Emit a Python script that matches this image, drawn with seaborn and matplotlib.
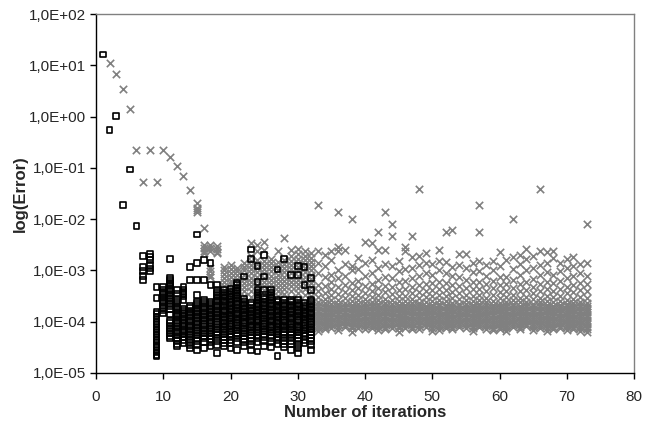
import numpy as np
import pandas as pd
import seaborn as sns
import matplotlib
matplotlib.use('Agg')
import matplotlib.pyplot as plt
from matplotlib.ticker import FixedLocator, FuncFormatter

# log10(error), one row per iteration
square_iters = list(range(1, 33))
square_log_err = [
    [1.21],
    [-0.26],
    [0.01],
    [-1.72],
    [-1.03],
    [-2.13],
    [-2.72, -2.93, -3.01, -3.11, -3.19],
    [-2.68, -2.74, -2.80, -2.89, -2.96, -3.02],
    [-3.33, -3.54, -3.80, -3.85, -3.90, -3.95, -4.00, -4.05, -4.10, -4.15, -4.20, -4.25, -4.30, -4.35, -4.40, -4.45, -4.50, -4.55, -4.60, -4.65, -4.68],
    [-3.33, -3.37, -3.42, -3.46, -3.51, -3.55, -3.60, -3.64, -3.69, -3.73, -3.78, -3.84],
    [-2.78, -3.15, -3.19, -3.23, -3.27, -3.31, -3.36, -3.40, -3.45, -3.50, -3.55, -3.60, -3.65, -3.70, -3.75, -3.86, -3.98, -4.03, -4.08, -4.13, -4.18, -4.23, -4.28, -4.33],
    [-3.38, -3.45, -3.57, -3.61, -3.66, -3.71, -3.75, -3.80, -3.85, -3.89, -3.94, -3.99, -4.03, -4.08, -4.13, -4.18, -4.22, -4.27, -4.32, -4.38, -4.44, -4.48],
    [-3.33, -3.37, -3.42, -3.46, -3.51, -3.58, -3.74, -3.78, -3.83, -3.88, -3.92, -3.97, -4.02, -4.06, -4.11, -4.16, -4.20, -4.25, -4.30, -4.35, -4.42],
    [-2.93, -3.18, -3.69, -3.73, -3.78, -3.82, -3.87, -3.92, -3.96, -4.01, -4.06, -4.10, -4.15, -4.20, -4.25, -4.30, -4.35, -4.40, -4.46, -4.52],
    [-2.30, -2.86, -3.18, -3.48, -3.61, -3.65, -3.70, -3.74, -3.79, -3.84, -3.88, -3.93, -3.98, -4.02, -4.07, -4.12, -4.17, -4.22, -4.27, -4.32, -4.38, -4.45, -4.55],
    [-2.80, -3.18, -3.57, -3.61, -3.66, -3.71, -3.75, -3.80, -3.85, -3.90, -3.94, -3.99, -4.04, -4.08, -4.13, -4.18, -4.23, -4.28, -4.33, -4.40, -4.51],
    [-2.86, -3.28, -3.61, -3.66, -3.70, -3.75, -3.80, -3.84, -3.89, -3.94, -3.98, -4.03, -4.08, -4.13, -4.18, -4.23, -4.28, -4.34, -4.40, -4.47],
    [-3.28, -3.38, -3.43, -3.48, -3.53, -3.57, -3.62, -3.67, -3.71, -3.76, -3.81, -3.86, -3.90, -3.95, -4.00, -4.05, -4.10, -4.15, -4.20, -4.25, -4.31, -4.37, -4.45, -4.61],
    [-3.38, -3.43, -3.48, -3.53, -3.58, -3.62, -3.67, -3.72, -3.77, -3.81, -3.86, -3.91, -3.96, -4.01, -4.05, -4.10, -4.15, -4.20, -4.25, -4.30, -4.36, -4.42, -4.48],
    [-3.36, -3.41, -3.46, -3.51, -3.56, -3.61, -3.65, -3.70, -3.75, -3.80, -3.84, -3.89, -3.94, -3.99, -4.04, -4.09, -4.14, -4.19, -4.24, -4.29, -4.35, -4.42, -4.52],
    [-3.24, -3.29, -3.34, -3.39, -3.44, -3.49, -3.54, -3.59, -3.63, -3.68, -3.73, -3.78, -3.83, -3.87, -3.92, -3.97, -4.02, -4.07, -4.12, -4.17, -4.22, -4.27, -4.33, -4.40, -4.55],
    [-3.12, -3.56, -3.61, -3.65, -3.70, -3.75, -3.80, -3.84, -3.89, -3.94, -3.99, -4.03, -4.08, -4.13, -4.18, -4.23, -4.28, -4.34, -4.40, -4.48],
    [-2.59, -2.78, -3.64, -3.68, -3.73, -3.78, -3.82, -3.87, -3.92, -3.96, -4.01, -4.06, -4.11, -4.16, -4.21, -4.26, -4.32, -4.38, -4.45, -4.55],
    [-2.91, -3.22, -3.38, -3.43, -3.48, -3.53, -3.58, -3.63, -3.67, -3.72, -3.77, -3.82, -3.86, -3.91, -3.96, -4.01, -4.06, -4.11, -4.16, -4.21, -4.26, -4.32, -4.40, -4.58],
    [-2.70, -3.12, -3.37, -3.51, -3.56, -3.61, -3.65, -3.70, -3.75, -3.80, -3.84, -3.89, -3.94, -3.99, -4.04, -4.09, -4.14, -4.19, -4.24, -4.30, -4.37, -4.48],
    [-3.38, -3.43, -3.48, -3.53, -3.58, -3.63, -3.67, -3.72, -3.77, -3.82, -3.87, -3.91, -3.96, -4.01, -4.06, -4.11, -4.16, -4.21, -4.26, -4.32, -4.39, -4.50],
    [-2.98, -3.58, -3.62, -3.67, -3.72, -3.77, -3.81, -3.86, -3.91, -3.96, -4.00, -4.05, -4.10, -4.15, -4.20, -4.25, -4.30, -4.36, -4.43, -4.67],
    [-2.78, -3.58, -3.63, -3.67, -3.72, -3.77, -3.82, -3.86, -3.91, -3.96, -4.01, -4.06, -4.10, -4.15, -4.20, -4.25, -4.31, -4.37, -4.43, -4.49],
    [-3.09, -3.58, -3.62, -3.67, -3.72, -3.76, -3.81, -3.86, -3.91, -3.95, -4.00, -4.05, -4.10, -4.15, -4.20, -4.25, -4.31, -4.37, -4.44, -4.55],
    [-2.92, -3.09, -3.58, -3.63, -3.67, -3.72, -3.77, -3.82, -3.86, -3.91, -3.96, -4.01, -4.06, -4.11, -4.16, -4.21, -4.26, -4.32, -4.38, -4.45, -4.52, -4.61],
    [-2.93, -3.28, -3.64, -3.69, -3.73, -3.78, -3.83, -3.88, -3.92, -3.97, -4.02, -4.07, -4.12, -4.17, -4.22, -4.28, -4.35, -4.42],
    [-3.15, -3.38, -3.57, -3.62, -3.66, -3.71, -3.76, -3.81, -3.85, -3.90, -3.95, -4.00, -4.05, -4.10, -4.15, -4.20, -4.26, -4.32, -4.38, -4.45, -4.55],
]

cross_iters = list(range(2, 74))
cross_log_err = [
    [1.04], [0.83], [0.54], [0.14], [-0.645], [-1.27], [-0.645], [-1.27], [-0.645],
    [-0.78], [-0.96], [-1.15], [-1.44],
    [-1.69, -1.78, -1.83, -1.86],
    [-2.17, -2.50, -2.56, -2.62, -2.66],
    [-2.50, -2.56, -2.62, -2.95, -3.02, -3.08, -3.13],
    [-2.52, -2.58, -2.64, -2.66],
    [-2.93, -3.00, -3.07, -3.14, -3.22, -3.30, -3.38, -3.45, -3.55, -3.70, -3.85, -4.00, -4.12],
    [-2.90, -2.97, -3.05, -3.12, -3.20, -3.27, -3.35, -3.43, -3.52, -3.68, -3.83, -3.97, -4.10],
    [-2.95, -3.02, -3.09, -3.17, -3.24, -3.32, -3.40, -3.48, -3.58, -3.74, -3.88, -4.03, -4.15],
    [-2.85, -2.93, -3.00, -3.08, -3.16, -3.24, -3.32, -3.40, -3.50, -3.66, -3.80, -3.95, -4.08],
    [-2.47, -2.72, -2.82, -2.90, -2.98, -3.06, -3.14, -3.22, -3.30, -3.40, -3.52, -3.70, -3.85, -4.00, -4.12],
    [-2.50, -2.62, -2.80, -2.88, -2.96, -3.04, -3.12, -3.20, -3.28, -3.36, -3.46, -3.60, -3.75, -3.90, -4.05],
    [-2.44, -2.60, -2.82, -2.90, -2.98, -3.06, -3.14, -3.22, -3.30, -3.38, -3.48, -3.62, -3.78, -3.93, -4.08],
    [-2.78, -2.86, -2.94, -3.02, -3.10, -3.18, -3.26, -3.34, -3.44, -3.58, -3.72, -3.88, -4.02, -4.14],
    [-2.63, -2.84, -2.92, -3.00, -3.08, -3.16, -3.24, -3.32, -3.40, -3.50, -3.65, -3.80, -3.96, -4.10],
    [-2.37, -2.80, -2.88, -2.96, -3.04, -3.12, -3.20, -3.28, -3.36, -3.46, -3.60, -3.76, -3.92, -4.06],
    [-2.60, -2.72, -2.82, -2.90, -2.98, -3.06, -3.14, -3.22, -3.30, -3.40, -3.54, -3.70, -3.86, -4.02, -4.14],
    [-2.58, -2.68, -2.78, -2.86, -2.94, -3.02, -3.10, -3.18, -3.26, -3.34, -3.44, -3.58, -3.72, -3.88, -4.04, -4.16],
    [-2.62, -2.72, -2.80, -2.88, -2.96, -3.04, -3.12, -3.20, -3.28, -3.36, -3.48, -3.62, -3.76, -3.90, -4.05, -4.18],
    [-2.66, -2.76, -2.84, -2.92, -3.00, -3.08, -3.16, -3.24, -3.32, -3.40, -3.50, -3.64, -3.72, -3.80, -3.88, -3.96, -4.04, -4.12],
    [-1.72, -2.62, -2.85, -3.05, -3.28, -3.40, -3.52, -3.61, -3.68, -3.72, -3.77, -3.81, -3.86, -3.90, -3.95, -3.99, -4.04, -4.08, -4.13, -4.18],
    [-2.70, -2.92, -3.12, -3.30, -3.44, -3.55, -3.64, -3.70, -3.74, -3.79, -3.83, -3.88, -3.92, -3.97, -4.01, -4.06, -4.10, -4.15],
    [-2.62, -2.80, -3.08, -3.22, -3.36, -3.48, -3.58, -3.66, -3.71, -3.75, -3.80, -3.84, -3.89, -3.93, -3.98, -4.02, -4.07, -4.12],
    [-1.87, -2.55, -2.63, -3.00, -3.15, -3.33, -3.46, -3.57, -3.65, -3.69, -3.74, -3.78, -3.83, -3.87, -3.92, -3.96, -4.01, -4.05, -4.10, -4.16],
    [-2.60, -2.88, -3.10, -3.28, -3.42, -3.54, -3.63, -3.70, -3.74, -3.79, -3.83, -3.88, -3.92, -3.97, -4.01, -4.06, -4.11],
    [-2.00, -2.92, -3.00, -3.25, -3.38, -3.50, -3.60, -3.67, -3.72, -3.76, -3.81, -3.85, -3.90, -3.94, -3.99, -4.03, -4.08, -4.13, -4.21],
    [-2.75, -2.98, -3.20, -3.34, -3.47, -3.58, -3.66, -3.71, -3.75, -3.80, -3.84, -3.89, -3.93, -3.98, -4.02, -4.07, -4.12],
    [-2.44, -2.85, -3.10, -3.30, -3.44, -3.56, -3.64, -3.69, -3.73, -3.78, -3.82, -3.87, -3.91, -3.96, -4.00, -4.05, -4.09, -4.14],
    [-2.46, -2.80, -3.05, -3.26, -3.40, -3.52, -3.61, -3.68, -3.72, -3.77, -3.81, -3.86, -3.90, -3.95, -3.99, -4.04, -4.08, -4.13],
    [-2.26, -2.60, -2.95, -3.18, -3.34, -3.47, -3.58, -3.66, -3.70, -3.75, -3.79, -3.84, -3.88, -3.93, -3.97, -4.02, -4.06, -4.11, -4.17],
    [-1.87, -2.60, -2.88, -3.12, -3.30, -3.43, -3.55, -3.64, -3.69, -3.73, -3.78, -3.82, -3.87, -3.91, -3.96, -4.00, -4.05, -4.10, -4.15],
    [-2.09, -2.33, -2.92, -3.15, -3.32, -3.46, -3.57, -3.66, -3.71, -3.75, -3.80, -3.84, -3.89, -3.93, -3.98, -4.02, -4.07, -4.12],
    [-2.82, -3.02, -3.22, -3.38, -3.50, -3.60, -3.67, -3.72, -3.76, -3.81, -3.85, -3.90, -3.94, -3.99, -4.03, -4.08, -4.13, -4.20],
    [-2.55, -2.63, -2.98, -3.20, -3.36, -3.49, -3.59, -3.67, -3.71, -3.76, -3.80, -3.85, -3.89, -3.94, -3.98, -4.03, -4.07, -4.12],
    [-2.33, -2.74, -2.95, -3.15, -3.32, -3.45, -3.56, -3.64, -3.69, -3.73, -3.78, -3.82, -3.87, -3.91, -3.96, -4.00, -4.05, -4.10, -4.15],
    [-1.42, -2.72, -2.90, -3.10, -3.28, -3.42, -3.54, -3.63, -3.68, -3.72, -3.77, -3.81, -3.86, -3.90, -3.95, -3.99, -4.04, -4.09, -4.14],
    [-2.67, -2.86, -3.06, -3.26, -3.40, -3.52, -3.62, -3.69, -3.73, -3.78, -3.82, -3.87, -3.91, -3.96, -4.00, -4.05, -4.10],
    [-2.88, -3.08, -3.25, -3.38, -3.50, -3.60, -3.67, -3.71, -3.76, -3.80, -3.85, -3.89, -3.94, -3.98, -4.03, -4.07, -4.12, -4.18],
    [-2.61, -2.81, -3.00, -3.22, -3.36, -3.48, -3.58, -3.66, -3.70, -3.75, -3.79, -3.84, -3.88, -3.93, -3.97, -4.02, -4.06, -4.11, -4.16],
    [-2.26, -2.84, -3.05, -3.24, -3.38, -3.50, -3.60, -3.68, -3.72, -3.77, -3.81, -3.86, -3.90, -3.95, -3.99, -4.04, -4.08, -4.13],
    [-2.22, -2.93, -3.10, -3.28, -3.42, -3.54, -3.63, -3.69, -3.74, -3.78, -3.83, -3.87, -3.92, -3.96, -4.01, -4.05, -4.10, -4.15],
    [-2.68, -2.90, -3.12, -3.30, -3.44, -3.56, -3.65, -3.70, -3.75, -3.79, -3.84, -3.88, -3.93, -3.97, -4.02, -4.06, -4.11],
    [-2.68, -2.96, -3.18, -3.34, -3.47, -3.58, -3.66, -3.71, -3.75, -3.80, -3.84, -3.89, -3.93, -3.98, -4.02, -4.07, -4.12],
    [-2.85, -3.04, -3.22, -3.37, -3.50, -3.60, -3.67, -3.72, -3.76, -3.81, -3.85, -3.90, -3.94, -3.99, -4.03, -4.08, -4.13, -4.19],
    [-1.72, -2.26, -2.81, -3.02, -3.22, -3.36, -3.48, -3.58, -3.66, -3.70, -3.75, -3.79, -3.84, -3.88, -3.93, -3.97, -4.02, -4.06, -4.11],
    [-2.90, -3.10, -3.27, -3.41, -3.53, -3.62, -3.68, -3.73, -3.77, -3.82, -3.86, -3.91, -3.95, -4.00, -4.04, -4.09, -4.14],
    [-2.81, -3.00, -3.20, -3.35, -3.48, -3.59, -3.67, -3.71, -3.76, -3.80, -3.85, -3.89, -3.94, -3.98, -4.03, -4.07, -4.12, -4.17],
    [-2.65, -2.92, -3.12, -3.28, -3.42, -3.54, -3.63, -3.69, -3.74, -3.78, -3.83, -3.87, -3.92, -3.96, -4.01, -4.05, -4.10, -4.15],
    [-2.80, -3.12, -3.26, -3.40, -3.52, -3.61, -3.68, -3.72, -3.77, -3.81, -3.86, -3.90, -3.95, -3.99, -4.04, -4.08, -4.13, -4.19],
    [-2.00, -2.74, -2.98, -3.18, -3.34, -3.47, -3.58, -3.66, -3.70, -3.75, -3.79, -3.84, -3.88, -3.93, -3.97, -4.02, -4.06, -4.11],
    [-2.70, -2.88, -3.08, -3.27, -3.41, -3.53, -3.62, -3.69, -3.73, -3.78, -3.82, -3.87, -3.91, -3.96, -4.00, -4.05, -4.10, -4.15],
    [-2.58, -2.78, -3.00, -3.22, -3.38, -3.51, -3.61, -3.68, -3.72, -3.77, -3.81, -3.86, -3.90, -3.95, -3.99, -4.04, -4.09],
    [-2.72, -2.95, -3.16, -3.32, -3.45, -3.56, -3.65, -3.70, -3.75, -3.79, -3.84, -3.88, -3.93, -3.97, -4.02, -4.06, -4.11, -4.16],
    [-1.42, -2.63, -2.90, -3.09, -3.27, -3.41, -3.53, -3.62, -3.68, -3.72, -3.77, -3.81, -3.86, -3.90, -3.95, -3.99, -4.04, -4.08, -4.13],
    [-2.65, -2.86, -3.04, -3.22, -3.37, -3.50, -3.60, -3.67, -3.71, -3.76, -3.80, -3.85, -3.89, -3.94, -3.98, -4.03, -4.07, -4.12, -4.19],
    [-2.63, -2.76, -3.09, -3.25, -3.40, -3.52, -3.62, -3.69, -3.73, -3.78, -3.82, -3.87, -3.91, -3.96, -4.00, -4.05, -4.10, -4.15],
    [-2.85, -3.02, -3.20, -3.36, -3.49, -3.60, -3.67, -3.72, -3.76, -3.81, -3.85, -3.90, -3.94, -3.99, -4.03, -4.08, -4.12],
    [-2.78, -2.96, -3.15, -3.32, -3.45, -3.57, -3.65, -3.70, -3.75, -3.79, -3.84, -3.88, -3.93, -3.97, -4.02, -4.06, -4.11, -4.16],
    [-2.73, -2.92, -3.10, -3.28, -3.43, -3.55, -3.64, -3.69, -3.74, -3.78, -3.83, -3.87, -3.92, -3.96, -4.01, -4.05, -4.10, -4.14],
    [-2.88, -3.06, -3.24, -3.38, -3.51, -3.61, -3.68, -3.72, -3.77, -3.81, -3.86, -3.90, -3.95, -3.99, -4.04, -4.08, -4.13, -4.19],
    [-2.09, -2.86, -3.11, -3.27, -3.41, -3.54, -3.63, -3.69, -3.73, -3.78, -3.82, -3.87, -3.91, -3.96, -4.00, -4.05, -4.10, -4.15, -4.20],
]

x_ticks = [0, 10, 20, 30, 40, 50, 60, 70, 80]
y_ticks = [1e-5, 1e-4, 1e-3, 1e-2, 1e-1, 1e0, 1e1, 1e2]


def to_frame(iters, rows):
    recs = [(it, 10 ** v) for it, row in zip(iters, rows) for v in row]
    return pd.DataFrame(recs, columns=['iteration', 'error'])


squares = to_frame(square_iters, square_log_err)
crosses = to_frame(cross_iters, cross_log_err)

sns.set_style('white')
plt.rcParams['font.family'] = ['Liberation Sans', 'DejaVu Sans']

fig = plt.figure(figsize=(6.58, 4.30), dpi=100)
ax = fig.add_axes([0.146, 0.1326, 0.8175, 0.8348])

sns.scatterplot(data=crosses, x='iteration', y='error', marker='x', s=28,
                color='#808080', linewidth=1.2, ax=ax, zorder=2)
# hollow squares: the grey crosses show through them
sns.scatterplot(data=squares, x='iteration', y='error', marker='s', s=17,
                facecolor='none', edgecolor='black', linewidth=1.2, ax=ax, zorder=3)

ax.set_yscale('log')
ax.set_xlim(0, 80)
ax.set_ylim(1e-5, 1e2)
ax.xaxis.set_major_locator(FixedLocator(x_ticks))
ax.yaxis.set_major_locator(FixedLocator(y_ticks))
ax.yaxis.set_minor_locator(FixedLocator([]))


def sci_comma(v, pos):
    e = int(np.floor(np.log10(v) + 1e-9))
    m = v / 10 ** e
    return f"{m:.1f}E{e:+03d}".replace('.', ',')


ax.yaxis.set_major_formatter(FuncFormatter(sci_comma))
ax.tick_params(axis='both', direction='out', length=4, width=1, color='black',
               labelsize=11, bottom=True, left=True, top=False, right=False)
ax.tick_params(axis='x', pad=8)
ax.tick_params(axis='y', pad=3)

for side in ['left', 'bottom']:
    ax.spines[side].set_color('black')
    ax.spines[side].set_linewidth(1.0)
for side in ['top', 'right']:
    ax.spines[side].set_color('#808080')
    ax.spines[side].set_linewidth(1.0)

ax.set_xlabel('Number of iterations', fontsize=12, fontweight='bold', labelpad=1)
ax.set_ylabel('log(Error)', fontsize=12, fontweight='bold', labelpad=1)

fig.savefig('out.png', dpi=100)
